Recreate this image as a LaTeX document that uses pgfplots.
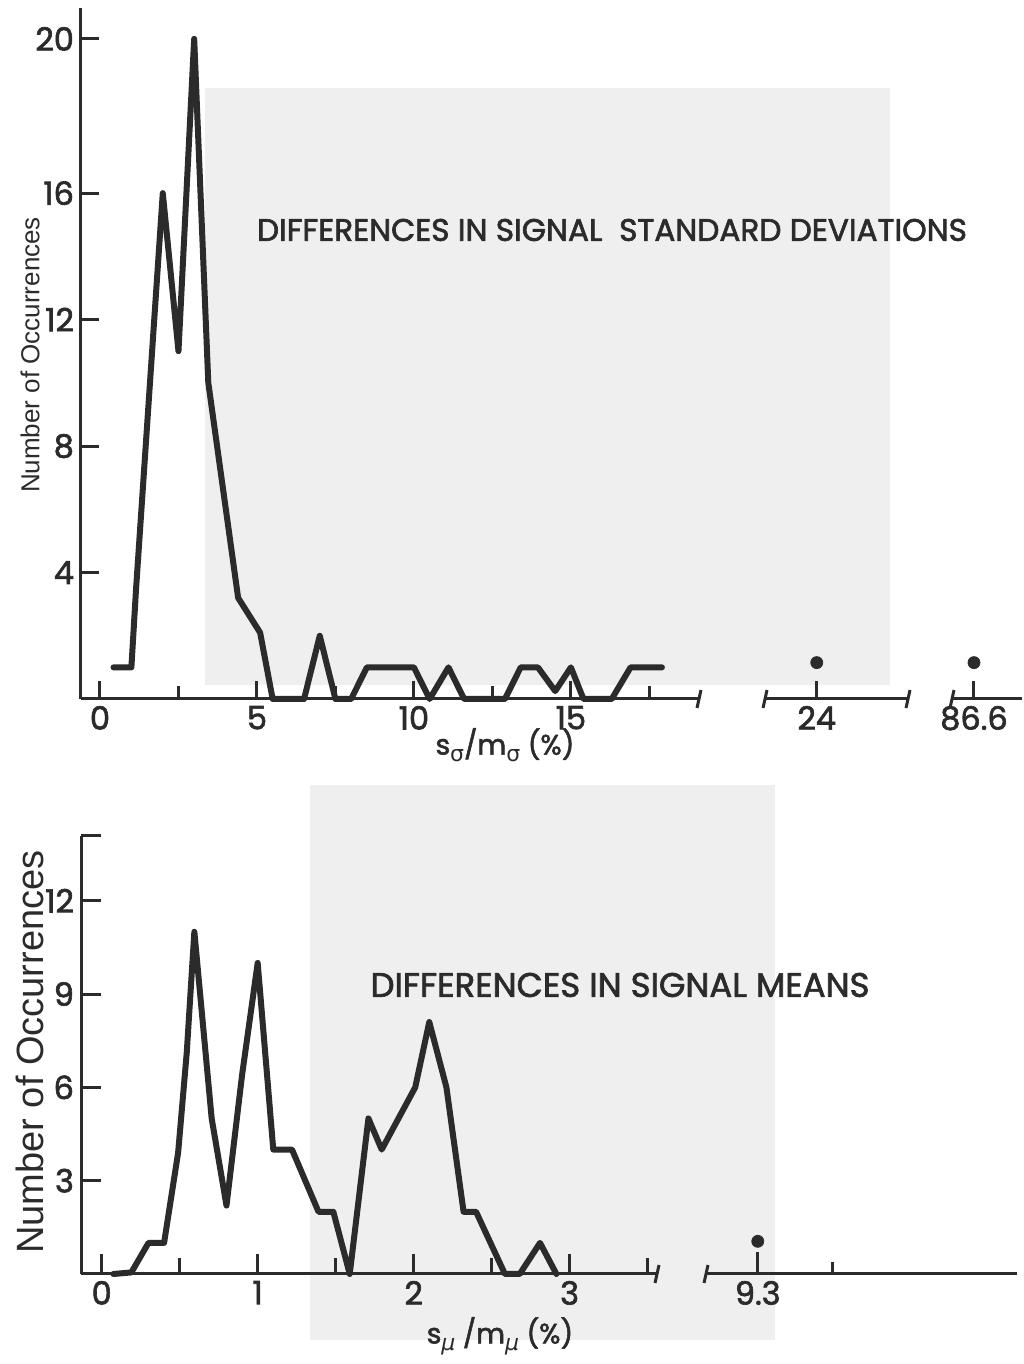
\documentclass[border=0pt]{standalone}
\usepackage{fontspec}
\setmainfont{Poppins}
\newfontfamily\lett{Poppins}[FakeBold=2]
\newfontfamily\helv{Liberation Sans}
\newfontfamily\grk{DejaVu Sans}
\usepackage{pgfplots}
\pgfplotsset{compat=1.18}
\definecolor{ink}{HTML}{2B2B2B}
\definecolor{paste}{HTML}{EFEFEF}
\pgfplotsset{
  histax/.style={
    scale only axis, clip=false, anchor=south west,
    axis x line=bottom, axis y line=left,
    axis line style={ink, line width=1.5pt, -},
    tick align=inside,
    tick style={ink, line width=1.5pt},
    major tick length=9pt, minor tick length=6.5pt,
    ticklabel style={font=\lett\fontsize{16}{16}\selectfont, text=ink},
    ymin=0,
  },
  sdax/.style={height=345.5pt, ymax=20.8,
    y coord trafo/.code={\pgfmathparse{##1+0.22*max(##1-16,0)}}},
  muax/.style={height=219pt, ymax=14.08},
  curve/.style={ink, line width=3pt, line join=round, line cap=round, mark=none},
  dot/.style={only marks, mark=*, mark size=3pt, ink},
}
\newcommand{\sub}[1]{\raisebox{-0.45ex}{\fontsize{11}{11}\selectfont\grk #1}}

\begin{document}
\begin{tikzpicture}
% paste-up patches of the original (pixel units)
\begin{scope}[x=0.5pt, y=0.5pt]
\fill[paste] (205,1276) rectangle (890,679);
\fill[paste] (310,579) rectangle (775,24);
\end{scope}

% ---- standard deviations ----
\begin{axis}[histax, sdax, at={(40.5pt,332.5pt)}, width=309pt,
  xmin=-0.605, xmax=19.08,
  xtick={0,5,10,15}, xticklabels={0,5,10,15},
  minor xtick={2.5,7.5,12.5,17.5},
  ytick={4,8,12,16,20}, yticklabels={4,8,12,16,20},
]
\addplot[curve] coordinates {
(0.43,1) (1.0,1) (1.15,3.5) (2.0,16) (2.5,11) (3.0,20) (3.45,10)
(4.4,3.2) (5.1,2.1) (5.5,0) (6.5,0) (7.0,2) (7.5,0) (8.0,0) (8.5,1)
(10.0,1) (10.5,0) (11.1,1) (11.6,0) (12.9,0) (13.4,1) (13.95,1)
(14.5,0.25) (15.0,1) (15.4,0) (16.3,0) (16.9,1) (17.9,1)
};
\end{axis}
\begin{axis}[histax, sdax, axis y line=none, at={(382.5pt,332.5pt)}, width=71.5pt,
  xmin=22.35, xmax=26.91, xtick={24}, xticklabels={24}, ytick=\empty]
\addplot[dot] coordinates {(24,1.15)};
\end{axis}
\begin{axis}[histax, sdax, axis y line=none, at={(476pt,332.5pt)}, width=35pt,
  xmin=85.9, xmax=88.13, xtick={86.6}, xticklabels={86.6}, ytick=\empty]
\addplot[dot] coordinates {(86.6,1.15)};
\end{axis}

% ---- means ----
\begin{axis}[histax, muax, at={(40.5pt,45pt)}, width=288pt,
  xmin=-0.1327, xmax=3.56,
  xtick={0,1,2,3}, xticklabels={0,1,2,3},
  minor xtick={0.5,1.5,2.5,3.5},
  major tick length=10pt, minor tick length=8pt,
  ytick={3,6,9,12,14.08}, yticklabels={3,6,9,12,{}},
]
\addplot[curve] coordinates {
(0.075,0) (0.19,0.05) (0.3,1) (0.4,1) (0.49,3.9) (0.545,7.1) (0.594,11)
(0.705,5) (0.80,2.2) (0.90,6.4) (1.0,10) (1.10,4) (1.22,4) (1.39,2)
(1.485,2) (1.59,0) (1.71,5) (1.795,4) (2.01,6) (2.1,8.1) (2.21,6)
(2.32,2) (2.40,2) (2.585,0) (2.68,0) (2.81,1) (2.915,0)
};
\end{axis}
\begin{axis}[histax, muax, axis y line=none, at={(353pt,45pt)}, width=155.5pt,
  xmin=8.817, xmax=11.72, xtick={9.3}, xticklabels={9.3}, ytick=\empty,
  major tick length=11pt,
  extra x ticks={10}, extra x tick labels={}, extra x tick style={major tick length=6pt}]
\addplot[dot] coordinates {(9.3,1.05)};
\end{axis}

\begin{scope}[x=0.5pt, y=0.5pt]
% axis breaks
\foreach \bx in {699,765,908,952}
  \draw[ink, line width=1.5pt] (\bx-2,656) -- (\bx+2,674);
\foreach \bx in {657,706}
  \draw[ink, line width=1.5pt] (\bx-2,81) -- (\bx+2,99);
% texts
\node[text=ink, font=\lett\fontsize{15.6}{15.6}\selectfont] at (612,1134)
  {DIFFERENCES IN SIGNAL\ \ STANDARD DEVIATIONS};
\node[text=ink, font=\lett\fontsize{17}{17}\selectfont] at (620,379)
  {DIFFERENCES IN SIGNAL MEANS};
\node[text=ink, font=\lett\fontsize{14}{14}\selectfont] at (505,619)
  {s\sub{σ}/m\sub{σ} (\%)};
\node[text=ink, font=\lett\fontsize{14}{14}\selectfont] at (500,28)
  {s\sub{\itshape μ} /m\sub{\itshape μ} (\%)};
\node[text=ink, rotate=90, font=\helv\fontsize{13}{13}\selectfont] at (30,1009)
  {Number of Occurrences};
\node[text=ink, rotate=90, font=\helv\fontsize{19}{19}\selectfont] at (30,312)
  {Number of Occurrences};
\pgfresetboundingbox
\useasboundingbox (0,0) rectangle (1023,1364);
\end{scope}
\end{tikzpicture}
\end{document}
